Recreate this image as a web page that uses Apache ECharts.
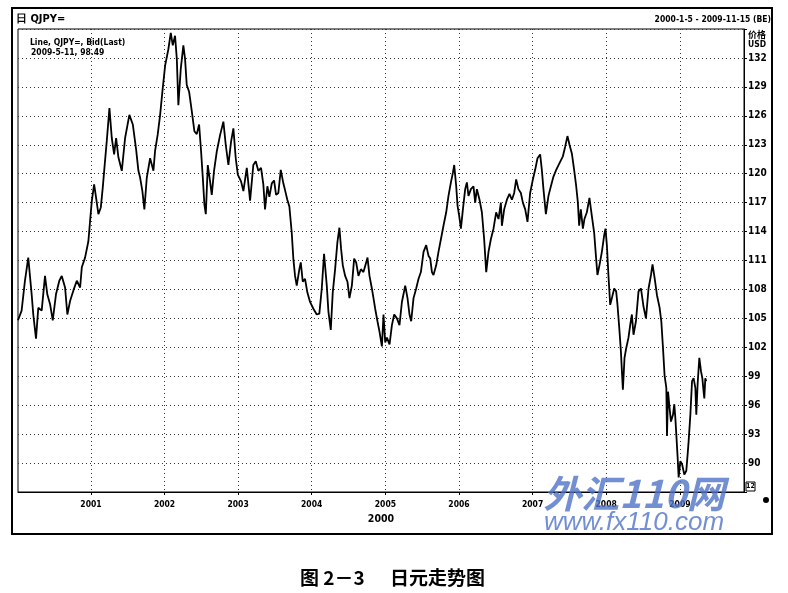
<!DOCTYPE html>
<html>
<head>
<meta charset="utf-8">
<title>日元走势图</title>
<script src="https://cdn.jsdelivr.net/npm/echarts@6/dist/echarts.min.js"></script>
<style>
  html, body { margin: 0; padding: 0; background: #fff; }
  #chart { width: 788px; height: 593px; }
</style>
</head>
<body>
<div id="chart"></div>
<script>
// QJPY= bid (date as decimal year, price in yen per USD)
var dates = [
  2000.011, 2000.060, 2000.105, 2000.150, 2000.196, 2000.218, 2000.255, 2000.286, 2000.332, 2000.377,
  2000.408, 2000.445, 2000.482, 2000.526, 2000.571, 2000.604, 2000.649, 2000.680, 2000.717, 2000.762,
  2000.808, 2000.853, 2000.876, 2000.920, 2000.965, 2000.988,
  2001.012, 2001.043, 2001.070, 2001.101, 2001.134, 2001.161, 2001.183, 2001.215, 2001.251, 2001.283,
  2001.315, 2001.342, 2001.373, 2001.419, 2001.464, 2001.522, 2001.569, 2001.614, 2001.645, 2001.668,
  2001.699, 2001.726, 2001.759, 2001.804, 2001.849, 2001.872, 2001.908, 2001.940, 2001.971,
  2002.008, 2002.052, 2002.085, 2002.112, 2002.143, 2002.167, 2002.188, 2002.221, 2002.256, 2002.279,
  2002.302, 2002.334, 2002.370, 2002.406, 2002.438, 2002.470, 2002.497, 2002.520, 2002.542, 2002.561,
  2002.588, 2002.619, 2002.642, 2002.673, 2002.710, 2002.755, 2002.800, 2002.832, 2002.868, 2002.904,
  2002.936, 2002.968, 2002.996,
  2003.040, 2003.072, 2003.118, 2003.163, 2003.207, 2003.240, 2003.275, 2003.312, 2003.343, 2003.366,
  2003.398, 2003.425, 2003.458, 2003.489, 2003.516, 2003.547, 2003.580, 2003.615, 2003.638, 2003.669,
  2003.697, 2003.729, 2003.751, 2003.774, 2003.797, 2003.833, 2003.852, 2003.879, 2003.910, 2003.941,
  2003.978,
  2004.023, 2004.069, 2004.104, 2004.137, 2004.168, 2004.205, 2004.227, 2004.259, 2004.286, 2004.318,
  2004.349, 2004.376, 2004.399, 2004.422, 2004.454, 2004.485, 2004.512, 2004.545, 2004.576, 2004.603,
  2004.634, 2004.667, 2004.702, 2004.739, 2004.757, 2004.784, 2004.816, 2004.838, 2004.861, 2004.892,
  2004.920, 2004.952, 2004.974, 2004.997,
  2005.020, 2005.056, 2005.088, 2005.119, 2005.156, 2005.191, 2005.224, 2005.269, 2005.300, 2005.327,
  2005.350, 2005.382, 2005.418, 2005.450, 2005.482, 2005.518, 2005.554, 2005.585, 2005.609, 2005.632,
  2005.653, 2005.690, 2005.721, 2005.754, 2005.789, 2005.826, 2005.857, 2005.890, 2005.917, 2005.935,
  2005.962, 2005.980,
  2006.003, 2006.026, 2006.053, 2006.084, 2006.107, 2006.129, 2006.162, 2006.197, 2006.220, 2006.243,
  2006.279, 2006.311, 2006.342, 2006.370, 2006.401, 2006.433, 2006.469, 2006.505, 2006.537, 2006.569,
  2006.583, 2006.614, 2006.651, 2006.686, 2006.719, 2006.750, 2006.777, 2006.808, 2006.841, 2006.868,
  2006.900, 2006.931, 2006.967,
  2007.004, 2007.035, 2007.067, 2007.103, 2007.126, 2007.148, 2007.181, 2007.216, 2007.249, 2007.284,
  2007.321, 2007.366, 2007.412, 2007.443, 2007.474, 2007.502, 2007.534, 2007.565, 2007.593, 2007.616,
  2007.633, 2007.656, 2007.684, 2007.705, 2007.738, 2007.773, 2007.806, 2007.837, 2007.864, 2007.882,
  2007.909, 2007.942, 2007.973, 2007.991,
  2008.010, 2008.031, 2008.055, 2008.078, 2008.109, 2008.136, 2008.154, 2008.181, 2008.200, 2008.214,
  2008.227, 2008.249, 2008.272, 2008.303, 2008.326, 2008.349, 2008.371, 2008.404, 2008.439, 2008.472,
  2008.507, 2008.540, 2008.575, 2008.608, 2008.629, 2008.657, 2008.689, 2008.725, 2008.748, 2008.771,
  2008.792, 2008.816, 2008.825, 2008.839, 2008.860, 2008.879, 2008.906, 2008.924, 2008.938, 2008.951,
  2008.969, 2008.983,
  2009.006, 2009.029, 2009.060, 2009.087, 2009.105, 2009.119, 2009.142, 2009.165, 2009.186, 2009.210,
  2009.223, 2009.241, 2009.264, 2009.287, 2009.305, 2009.322, 2009.332, 2009.345, 2009.358
];
var prices = [
  104.8, 105.8, 108.9, 111.3, 107.5, 105.4, 102.9, 106.1, 105.8, 109.4,
  107.5, 106.5, 104.8, 107.5, 108.9, 109.4, 108.2, 105.4, 106.8, 107.9,
  108.9, 108.2, 110.3, 111.3, 113.0, 115.1,
  117.2, 118.9, 117.5, 115.8, 116.5, 118.6, 120.6, 123.4, 126.8, 123.7,
  122.0, 123.7, 121.7, 120.3, 123.7, 126.1, 125.1, 122.5, 120.3, 119.6,
  118.2, 116.3, 119.6, 121.6, 120.3, 122.4, 124.1, 126.1, 128.5,
  131.2, 132.9, 134.6, 133.3, 134.3, 131.9, 127.1, 130.9, 133.3, 131.9,
  129.2, 128.5, 126.5, 124.4, 124.1, 125.1, 122.3, 119.6, 116.8, 115.8,
  120.9, 119.2, 117.8, 120.3, 122.3, 124.0, 125.4, 123.0, 120.9, 123.3,
  124.7, 121.6, 119.9,
  119.2, 118.2, 120.6, 117.2, 120.9, 121.3, 120.3, 120.6, 118.9, 116.3,
  118.7, 117.6, 119.0, 119.3, 117.8, 118.0, 120.4, 119.0, 118.3, 117.3,
  116.6, 113.9, 111.2, 109.4, 108.4, 110.1, 110.8, 108.8, 109.1, 107.7,
  106.7,
  106.0, 105.4, 105.5, 108.1, 111.7, 108.4, 105.7, 103.8, 107.7, 110.1,
  112.9, 114.4, 112.2, 110.5, 109.4, 108.8, 107.1, 108.4, 111.2, 110.8,
  109.4, 110.1, 109.8, 110.8, 111.3, 109.4, 108.1, 107.1, 106.0, 104.7,
  103.6, 102.1, 105.4, 102.5,
  103.0, 102.3, 104.3, 105.4, 105.0, 104.3, 106.7, 108.4, 107.1, 105.4,
  104.7, 107.1, 108.1, 109.1, 109.8, 111.9, 112.6, 111.5, 111.2, 109.8,
  109.5, 110.5, 111.9, 113.2, 114.6, 116.0, 117.7, 119.1, 120.1, 120.9,
  118.7, 116.7,
  115.6, 114.3, 116.3, 118.4, 119.1, 117.7, 118.4, 118.7, 117.0, 118.4,
  117.3, 116.0, 113.2, 109.8, 111.9, 113.2, 114.3, 116.0, 115.3, 117.0,
  114.6, 116.3, 117.3, 117.9, 117.3, 118.0, 119.4, 118.4, 118.0, 117.0,
  116.3, 115.0, 118.0,
  119.4, 120.4, 121.6, 122.0, 120.4, 118.4, 115.8, 117.7, 118.7, 119.7,
  120.4, 121.1, 121.8, 122.8, 123.9, 123.0, 122.1, 120.4, 118.7, 117.0,
  114.6, 116.3, 114.3, 115.3, 116.0, 117.5, 115.6, 113.9, 111.2, 109.5,
  110.5, 111.9, 113.6, 114.3,
  112.6, 109.5, 106.4, 107.1, 108.1, 107.8, 106.4, 103.7, 101.6, 99.5,
  97.6, 100.9, 101.9, 103.0, 104.3, 105.4, 103.3, 104.7, 107.8, 108.1,
  106.2, 105.0, 108.1, 109.5, 110.6, 109.2, 107.4, 106.1, 104.7, 101.9,
  99.1, 97.8, 92.8, 97.4, 95.7, 94.3, 95.0, 96.1, 94.7, 93.0,
  90.6, 88.5,
  90.2, 89.9, 88.8, 89.2, 90.9, 92.3, 95.0, 98.5, 98.8, 97.8,
  95.0, 98.2, 100.9, 99.5, 98.8, 97.4, 96.7, 98.8, 98.49
];
var yearLabels = [2001, 2002, 2003, 2004, 2005, 2006, 2007, 2008, 2009];
var rangeStart = [2000, 0, 5];
var rangeEnd = [2009, 10, 15];

function toTime(y) {
  var y0 = Math.floor(y);
  var a = new Date(y0, 0, 1).getTime();
  var b = new Date(y0 + 1, 0, 1).getTime();
  return a + (y - y0) * (b - a);
}

var lineData = dates.map(function (d, i) { return [toTime(d), prices[i]]; });
var yearTimes = yearLabels.map(function (y) { return new Date(y, 0, 1).getTime(); });

var narrow = "'Liberation Sans Narrow','DejaVu Sans Condensed','Liberation Sans',sans-serif";
var cjk = "'Noto Sans CJK SC',sans-serif";

var myChart = echarts.init(document.getElementById('chart'));
var option = {
  backgroundColor: '#fff',
  animation: false,
  grid: {
    left: 18,
    right: 44,
    top: 29,
    bottom: 101,
    show: true,
    borderColor: '#000',
    borderWidth: 1
  },
  xAxis: {
    type: 'value',
    min: new Date(rangeStart[0], rangeStart[1], rangeStart[2]).getTime(),
    max: new Date(rangeEnd[0], rangeEnd[1], rangeEnd[2]).getTime(),
    name: '2000',
    nameLocation: 'middle',
    nameGap: 20,
    nameTextStyle: { color: '#000', fontSize: 10.5, fontWeight: 'bold', fontFamily: narrow },
    axisLine: { show: true, lineStyle: { color: '#000', width: 1 } },
    axisTick: { show: true, length: 3, customValues: yearTimes, lineStyle: { color: '#000' } },
    axisLabel: {
      customValues: yearTimes,
      color: '#000',
      fontSize: 8.5,
      fontWeight: 'bold',
      fontFamily: narrow,
      margin: 8,
      formatter: function (v) { return String(new Date(v).getFullYear()); }
    },
    splitLine: { show: true, lineStyle: { type: [1, 3], color: '#333', width: 1 } }
  },
  yAxis: {
    type: 'value',
    position: 'right',
    min: 87,
    max: 135,
    interval: 3,
    axisLine: { show: true, lineStyle: { color: '#000', width: 1 } },
    axisTick: { show: true, length: 3, lineStyle: { color: '#000' } },
    axisLabel: {
      color: '#000',
      fontSize: 10,
      fontWeight: 'bold',
      fontFamily: narrow,
      margin: 4,
      formatter: function (v) { return (v < 90 || v > 132) ? '' : String(v); }
    },
    splitLine: { show: true, lineStyle: { type: [1, 3], color: '#333', width: 1 } }
  },
  series: [
    {
      name: 'QJPY=',
      type: 'line',
      data: lineData,
      showSymbol: false,
      symbol: 'none',
      lineStyle: { color: '#000', width: 1.8 },
      z: 5
    }
  ],
  graphic: [
    { type: 'rect', shape: { x: 12, y: 8, width: 760, height: 526 },
      style: { fill: 'none', stroke: '#000', lineWidth: 2 }, z: 10 },
    { type: 'text', x: 16, y: 19,
      style: { text: '日 QJPY=', fill: '#000', font: 'bold 11px ' + narrow, textVerticalAlign: 'middle' } },
    { type: 'text', x: 771, y: 20,
      style: { text: '2000-1-5 - 2009-11-15 (BE)', fill: '#000', font: 'bold 8.5px ' + narrow,
        textAlign: 'right', textVerticalAlign: 'middle' } },
    { type: 'text', x: 30, y: 43,
      style: { text: 'Line, QJPY=, Bid(Last)', fill: '#000', font: 'bold 8.5px ' + narrow, textVerticalAlign: 'middle' } },
    { type: 'text', x: 31, y: 53,
      style: { text: '2009-5-11, 98.49', fill: '#000', font: 'bold 8.5px ' + narrow, textVerticalAlign: 'middle' } },
    { type: 'text', x: 748, y: 35,
      style: { text: '价格', fill: '#000', font: 'bold 9px ' + cjk, textVerticalAlign: 'middle' } },
    { type: 'text', x: 748, y: 45,
      style: { text: 'USD', fill: '#000', font: 'bold 8.5px ' + narrow, textVerticalAlign: 'middle' } },
    { type: 'rect', shape: { x: 746, y: 482, width: 9, height: 9 },
      style: { fill: '#fff', stroke: '#000', lineWidth: 1 } },
    { type: 'text', x: 750.5, y: 486.5,
      style: { text: '12', fill: '#000', font: 'bold 7px ' + narrow, textAlign: 'center', textVerticalAlign: 'middle' } },
    { type: 'circle', shape: { cx: 766, cy: 500, r: 3 }, style: { fill: '#000' } },
    { type: 'text', x: 300, y: 578,
      style: { text: '图 2－3', fill: '#000', font: 'bold 19px ' + cjk, textVerticalAlign: 'middle' } },
    { type: 'text', x: 390, y: 578,
      style: { text: '日元走势图', fill: '#000', font: 'bold 19px ' + cjk, textVerticalAlign: 'middle' } },
    // site watermark
    { type: 'text', x: 634, y: 494, z: 20,
      style: { text: '外汇110网', fill: 'rgba(80,115,200,0.8)', font: 'italic bold 38px ' + cjk,
        textAlign: 'center', textVerticalAlign: 'middle' } },
    { type: 'text', x: 634, y: 523, z: 20,
      style: { text: 'www.fx110.com', fill: 'rgba(80,115,200,0.8)', font: 'italic 26px Liberation Sans, sans-serif',
        textAlign: 'center', textVerticalAlign: 'middle' } }
  ]
};
option && myChart.setOption(option, true);
</script>
</body>
</html>
